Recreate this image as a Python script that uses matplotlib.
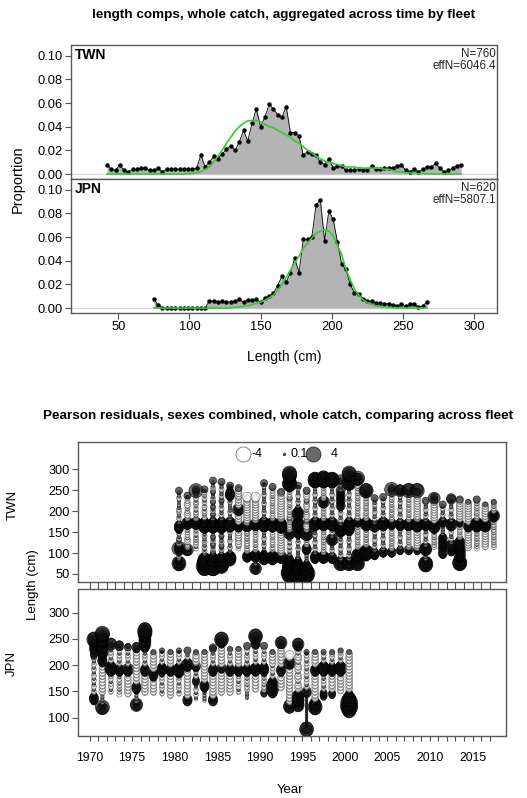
import matplotlib
matplotlib.use('Agg')
import matplotlib.pyplot as plt
import numpy as np

plt.rcParams['font.family'] = ['Liberation Sans', 'DejaVu Sans']

# ---------------- length composition data ----------------
twn_lengths = list(range(42, 292, 3))
twn_obs = [0.008, 0.004, 0.003, 0.008, 0.003, 0.002, 0.004, 0.004, 0.005, 0.005,
           0.003, 0.003, 0.005, 0.002, 0.004, 0.004, 0.004, 0.004, 0.004, 0.004,
           0.004, 0.005, 0.016, 0.006, 0.010, 0.015, 0.013, 0.017, 0.021, 0.024,
           0.020, 0.027, 0.037, 0.028, 0.043, 0.055, 0.040, 0.048, 0.059, 0.055,
           0.050, 0.048, 0.057, 0.035, 0.035, 0.032, 0.016, 0.019, 0.017, 0.016,
           0.010, 0.008, 0.013, 0.005, 0.007, 0.007, 0.003, 0.003, 0.003, 0.004,
           0.003, 0.003, 0.007, 0.004, 0.004, 0.005, 0.005, 0.005, 0.007, 0.008,
           0.003, 0.002, 0.004, 0.002, 0.004, 0.006, 0.006, 0.009, 0.005, 0.002,
           0.003, 0.005, 0.007, 0.008]
twn_exp = [0, 0, 0, 0, 0, 0, 0, 0, 0, 0,
           0, 0, 0, 0, 0, 0, 0, 0, 0, 0.0003,
           0.0005, 0.001, 0.002, 0.004, 0.006, 0.010, 0.015, 0.020, 0.026, 0.031,
           0.036, 0.040, 0.043, 0.045, 0.045, 0.045, 0.044, 0.042, 0.040, 0.039,
           0.037, 0.035, 0.033, 0.031, 0.028, 0.026, 0.023, 0.020, 0.018, 0.015,
           0.013, 0.011, 0.010, 0.009, 0.008, 0.007, 0.006, 0.006, 0.006, 0.005,
           0.005, 0.005, 0.005, 0.005, 0.005, 0.004, 0.004, 0.003, 0.002, 0.002,
           0.001, 0.001, 0.0005, 0.0004, 0.0003, 0.0002, 0.0001, 0, 0, 0,
           0, 0, 0, 0]

jpn_lengths = list(range(75, 268, 3))
jpn_obs = [0.0073, 0.0025, 0, 0, 0, 0, 0, 0, 0, 0,
           0, 0, 0, 0.006, 0.006, 0.005, 0.0056, 0.0053, 0.005, 0.006,
           0.0073, 0.005, 0.0067, 0.0065, 0.0073, 0.0048, 0.0087, 0.010, 0.0124, 0.019,
           0.027, 0.022, 0.030, 0.042, 0.030, 0.058, 0.058, 0.060, 0.087, 0.091,
           0.057, 0.082, 0.075, 0.056, 0.037, 0.0326, 0.020, 0.0126, 0.0118, 0.008,
           0.006, 0.0056, 0.004, 0.0042, 0.0034, 0.0037, 0.0025, 0.0017, 0.003, 0.0014,
           0.0034, 0.0034, 0.0008, 0.0017, 0.0053]
jpn_exp = [0, 0, 0, 0, 0, 0, 0, 0, 0, 0,
           0, 0, 0, 0, 0, 0, 0, 0, 0.0003, 0.0006,
           0.001, 0.0015, 0.002, 0.003, 0.0038, 0.005, 0.0065, 0.0085, 0.011, 0.015,
           0.020, 0.026, 0.032, 0.038, 0.044, 0.050, 0.055, 0.059, 0.063, 0.065,
           0.066, 0.065, 0.061, 0.053, 0.045, 0.033, 0.024, 0.016, 0.011, 0.007,
           0.0045, 0.003, 0.002, 0.0012, 0.0008, 0.0005, 0.0003, 0.0002, 0.0001, 0,
           0, 0, 0, 0, 0]

comp_fleets = ['TWN', 'JPN']
comp_N = ['N=760', 'N=620']
comp_effN = ['effN=6046.4', 'effN=5807.1']

# ---------------- Pearson residual data ----------------
# one character per 3-cm length bin, starting at the listed lower length
res_levels = {'a': -0.2, 'b': -0.45, 'c': -0.8, 'd': -1.5, 'e': -3, 'f': -4,
              '0': 0.1, '1': 0.2, '2': 0.5, '3': 0.9, '4': 1.5, '5': 2.5, '6': 3.5, '7': 5}

twn_years = list(range(1980, 2018))
twn_lo = [66, 102, 111, 60, 60, 63, 75, 111, 84, 57,
          78, 78, 81, 42, 42, 42, 81, 81, 81, 69,
          69, 69, 87, 90, 96, 96, 102, 102, 102, 66,
          114, 93, 99, 69, 111, 111, 114, 114]
twn_codes = [
    "345653" "2a1b1a2" "34643" "1b1a2b1a1b1" "2344432" "a1aba1a1bab1a1a0a1aba1a1a" "3",
    "3453" "bab1bcb1babab1ba" "2345432" "babcbab1babcbabab1" "3",
    "b1ab" "ab1bab1aba1ba" "2345432" "ba1bab1aba1bab1aba1ba" "363",
    "566765665543" "1a1b1ab1a1ba1a1b1a1" "2345554432" "aba1bab1aba0ab1aba1bab1" "3",
    "567766555443" "1a2a1b1a2a1b1a2a1a1" "2345554432" "a1a2a1b1a2a1a2a1b1a1a2a1ba1a1a" "3",
    "456665554432" "1a1b1a2a1b1a1a2a1a" "2345554432" "a1ab1a1aba1a1a2a1ab1a1aba1a1a" "3",
    "2345554321" "a1ab1a1aba1a1a1ba" "234555432" "a1a1ab1a1a1a1b1a" "234443321" "23",
    "b1bb" "cbcbbcbcbcb" "234432" "bcbcbcbb" "24542" "bcbcbcbbcbcbcb" "3",
    "2344321" "bab1babab1bab1baba" "24542" "cbcbcbcbcbcbcbcbcbc" "cd",
    "24542" "1a1a" "23454321" "bab1bab1babab1bab" "2345432" "cbcbcbcbcbcbcbcbc" "cd",
    "23454432211" "a1ab1a1aba1a1ab" "234555432" "a1a1ab1a1a1ab1a1a1ab1a1a1ab1" "3",
    "2345543221" "bab1babab1babab1" "234555432" "babab1babab1babab1babab1b" "3",
    "2345432" "cbcbcbcbcbcbcbcbc" "2345554432" "cbcbcbcbcbcbcbcbcbcbc" "3",
    "5667765665654433221" "a1ab1aba1ab1a1" "24542" "babab1bab2bab1babab1babab2bab1ba" "23456654455666",
    "6677666555443322a1a1" "a1ab1a1ab1a1a" "23432" "234555432" "2345543321" "a1ab1a1aba1a1ab1" "3",
    "56676655443221" "a1a1ab" "234432" "bab1bab" "35653" "babcbab2babcbab1babcbab2babcbab" "3",
    "2344432" "a1ab1a1aba1a1ab1a1a" "23455432" "a1ab1a1aba1a1ab1a1aba1a1ab" "23456653",
    "2345432" "bab1bab1bab1bab1bab" "23455432" "bab1bab1bab" "24542" "bab1bab1bab" "34566653",
    "234432" "a1ab1a1ab" "24542" "a1ab1a" "23455432" "a1ab1a1aba1a1ab1a1aba1a1ab" "23456653",
    "356532" "a1ab1a1aba1a1ab1a1a" "234555432" "a1ab1a1aba1a" "234323432343234" "a1a2a1a2" "4",
    "356532" "a1ab1a1aba1a1ab1a1ab" "234455554432" "a1ab1a1aba1a1ab1a1aba1a1a" "345654334566",
    "356543345543211" "bab1bab1bab1bab1ba" "23432" "bab1bab1bab1bab1bab1bab1bab1b" "34563",
    "23455654321" "bab1bab1bab1b" "23455432" "bab1bab1bab1bab1bab1" "3565",
    "234432" "a1ab1a1aba1a1ab1a" "24542" "a1ab1a1aba1a1ab1a1a" "3",
    "23432" "a1ab1a1aba1a1ab1" "23455432" "a1ab1a1aba1a1ab1a" "3",
    "23432" "bab1bab1bab1bab1b" "234432" "bab1bab1bab1bab1bab1bab" "363",
    "2332" "a1ab1a1aba1a1ab" "2344432" "a1ab1a1aba1a1ab1a1aba1" "354",
    "2342" "bab1bab1bab1bab" "2345432" "bab1bab1bab1bab1bab1ba" "265",
    "2332" "cbcbcbcbcbcbcb" "234555432" "cbcbcbcbcbcbcbcbcbcbc" "365",
    "3566532" "a1a1a" "245542" "a1ab1a1aba1a1" "2344432" "a1ab1a1aba1a1ab" "3",
    "bab1bab1bab1b" "23455432" "bcbcbcbcbcbcbcbcb" "353",
    "2343" "23432343234321" "a1a1a1a" "23432" "a1ab1a1ab1a" "3",
    "2332" "24542" "a1ab1a1aba1" "2345432" "a1ab1a1aba1a1ab1" "44",
    "356653" "34454345443454332" "bab1bab1ba" "2332" "bcbcbcbcbcbcbcbc" "3",
    "bcbcbcbcbcbcbcb" "234432" "bcbcbcbcbcbcbcbc" "2",
    "bab1bab1bab1bab" "234555432" "bab1bab1bab1bab" "3",
    "bcbcbcbcbcbcbc" "23455432" "bcbcbcbcbcbc" "2",
    "bab1bab1bab1bab1bab1ba" "2345432" "bab1bab" "2",
]

jpn_years = list(range(1970, 2001))
jpn_lo = [129, 114, 147, 144, 144, 120, 147, 147, 144, 141,
          144, 129, 135, 132, 129, 147, 147, 147, 138, 153,
          144, 144, 156, 117, 120, 75, 114, 138, 141, 150,
          111]
jpn_codes = [
    "234432" "ab1aba1ab1aba1ab1aba1ab" "2332343343" "565",
    "3563" "1a1a1a1" "bcbcbcbcbcbcbcbcbc" "234433" "445545544554" "566",
    "ab1abab1abab" "23455432" "ab1abab1ab" "354",
    "bab1bab1bab1b" "234432" "ab1abab1aba" "343",
    "bcbcbcbcbcbcb" "234532" "ab1abab1aba" "32",
    "3553" "a1a1a1" "234432" "bcbcbcbcbcbcbcbcbcbc" "2343",
    "bcbcbcbcbcbc" "234432" "ab1abab1ab" "34454554556" "665",
    "bcbcbcbcb" "234432" "bcbcbcbcbcb" "2",
    "ab1abab1abab1" "2344432" "ab1abab1" "2",
    "bcbcbcbcbcbcbc" "234432" "bcbcbcbc" "2",
    "ab1abab1abab" "23455432" "ab1abab1" "2",
    "3443" "bcbcbcbcbcbcbcbcb" "2345432" "ab1ab" "3",
    "a1ab1aba1a" "2332" "ab1ab" "2342" "bcbcbcb" "2",
    "a1a1a1a" "234432" "bcbcbcbcbcbcbcbcbc" "2",
    "3443" "bcbcbcbcbcbcbc" "234432" "ab1abab1ab" "33",
    "bcbcbcbcbcbcbc" "2342" "bcbcbcbcbcbc" "234565",
    "bcbcbcbcbcbc" "234432" "ab1abab1ab" "2",
    "ab1abab1abab" "234432" "bcbcbcbcbc" "2",
    "1a1a1" "bab1bab1ba" "234432" "ab1abab1abab" "3",
    "bcbcbcbcbc" "2345432" "ab1abab1aba" "3443" "3565",
    "232" "bab1bab1ba" "2344432" "ab1abab1aba" "3",
    "34454554432" "ab1abab1" "bcbcbcbc" "2",
    "bcbcbcbcb" "234432" "bcbcbcbcbcbc" "2454",
    "4554" "bcbcbcbcbcbcbcbcbcbcbcb" "24542" "bcd",
    "45545545432" "bcbcb1bcbcb1bcbcb1bcbcb1bc" "23454",
    "565" "00000000000000000000" "2442" "ab1abab1abab1abab1abab1" "2",
    "4565543" "bcbcbcbcbcbcbcbc" "234432" "bcbcbcbc" "2",
    "23332" "ab1abab1ab" "23455432" "ab1aba" "2",
    "2332" "bcbcbcbcbc" "2344432" "ab1abab" "2",
    "bcbcbcbcbcb" "23455432" "ab1abab" "2",
    "56677676654332" "bcbcbcbcbcbcbcbcbcbcbcbc" "2",
]

legend_vals = [-4, 0.1, 4]
legend_labels = ['-4', '0.1', '4']

# ---------------- figure ----------------
W, H = 527, 798
fig = plt.figure(figsize=(W / 100, H / 100), dpi=100)


def fax(x0, y0, x1, y1):
    return fig.add_axes([x0 / W, 1 - y1 / H, (x1 - x0) / W, (y1 - y0) / H])


frame_col = '0.35'
TICK = 9.3

# composition panels
comp_axes = [fax(71, 45, 497, 179), fax(71, 179, 497, 313)]
comp_data = [(twn_lengths, twn_obs, twn_exp), (jpn_lengths, jpn_obs, jpn_exp)]
for k, ax in enumerate(comp_axes):
    L, obs, ex = comp_data[k]
    ax.axhline(0, color='0.85', lw=1.0, zorder=0)
    ax.fill_between(L, 0, obs, color='0.70', lw=0, zorder=1)
    ax.plot(L, obs, color='black', lw=0.6, zorder=2)
    ax.plot(L, obs, 'o', color='black', ms=2.2, zorder=3)
    ax.plot(L, ex, color='#33cc33', lw=1.2, zorder=4)
    ax.set_xlim(16.7, 316.2)
    ax.set_ylim(-0.0042, 0.109)
    ax.set_yticks([0, 0.02, 0.04, 0.06, 0.08, 0.10])
    ax.set_yticklabels(['0.00', '0.02', '0.04', '0.06', '0.08', '0.10'])
    ax.set_xticks([50, 100, 150, 200, 250, 300])
    ax.tick_params(direction='out', length=4, width=0.8, color='0.3',
                   labelsize=TICK, pad=2)
    for s in ax.spines.values():
        s.set_color(frame_col)
        s.set_linewidth(1.0)
    ax.text(0.008, 0.975, comp_fleets[k], transform=ax.transAxes, ha='left',
            va='top', fontsize=10, fontweight='bold')
    ax.text(0.997, 0.975, comp_N[k] + '\n' + comp_effN[k], transform=ax.transAxes,
            ha='right', va='top', fontsize=8.4, linespacing=0.92, color='0.15')
comp_axes[0].tick_params(labelbottom=False, bottom=False)

fig.text(284 / W, 1 - 15 / H, 'length comps, whole catch, aggregated across time by fleet',
         ha='center', va='center', fontsize=9.7, fontweight='bold')
fig.text(18 / W, 1 - 179 / H, 'Proportion', rotation=90, ha='center', va='center', fontsize=10.5)
fig.text(284 / W, 1 - 357 / H, 'Length (cm)', ha='center', va='center', fontsize=10)

# bubble panels
bub_axes = [fax(77.7, 441.7, 505.7, 581.7), fax(77.7, 589.3, 505.7, 736)]
bub_data = [(twn_years, twn_lo, twn_codes), (jpn_years, jpn_lo, jpn_codes)]
bub_ylims = [(31.6, 365.9), (65.1, 344.6)]
bub_yticks = [[50, 100, 150, 200, 250, 300], [100, 150, 200, 250, 300]]
SCALE = 29.2  # points^2 per unit |residual|


def bubble_style(r):
    if r < 0:
        return (1, 1, 1, 0.55), (0.35, 0.35, 0.35, 0.8)
    return (0.05, 0.05, 0.05, 0.62), (0, 0, 0, 0.75)


for k, ax in enumerate(bub_axes):
    yrs, los, codes = bub_data[k]
    xs, ys, rs = [], [], []
    for yr, lo, code in zip(yrs, los, codes):
        for j, ch in enumerate(code):
            xs.append(yr + 0.5)
            ys.append(lo + 3 * j)
            rs.append(res_levels[ch])
    rs = np.array(rs)
    fcs = [bubble_style(r)[0] for r in rs]
    ecs = [bubble_style(r)[1] for r in rs]
    ax.scatter(xs, ys, s=SCALE * np.abs(rs), facecolors=fcs, edgecolors=ecs,
               linewidths=0.5, zorder=2)
    ax.set_xlim(1968.6, 2018.9)
    ax.set_ylim(*bub_ylims[k])
    ax.set_yticks(bub_yticks[k])
    ax.set_xticks(list(range(1970, 2018)))
    ax.set_xticklabels([str(y) if y % 5 == 0 else '' for y in range(1970, 2018)])
    ax.tick_params(axis='y', direction='out', length=4, width=0.8, color='0.3',
                   labelsize=9.2, pad=2)
    ax.tick_params(axis='x', direction='out', width=0.8, color='0.3',
                   labelsize=8.7, pad=8)
    for s in ax.spines.values():
        s.set_color(frame_col)
        s.set_linewidth(1.0)

bub_axes[0].tick_params(axis='x', length=5.4, labelbottom=False)
bub_axes[1].tick_params(axis='x', length=3.5)

# legend inside TWN bubble panel
lax = bub_axes[0]
leg_x = [0.3855, 0.482, 0.5505]
leg_tx = [0.405, 0.497, 0.591]
for v, lab, xp, tx in zip(legend_vals, legend_labels, leg_x, leg_tx):
    fc, ec = bubble_style(v)
    if v < 0:
        fc = (1, 1, 1, 1)
    lax.scatter([xp], [0.915], s=SCALE * abs(v), facecolors=[fc], edgecolors=[ec],
                linewidths=0.6, transform=lax.transAxes, clip_on=False, zorder=5)
    lax.text(tx, 0.915, lab, transform=lax.transAxes, ha='left', va='center',
             fontsize=9)

fig.text(43 / W, 1 - 416 / H,
         'Pearson residuals, sexes combined, whole catch, comparing across fleet',
         ha='left', va='center', fontsize=9.7, fontweight='bold')
fig.text(13 / W, 1 - 505 / H, 'TWN', rotation=90, ha='center', va='center', fontsize=9.5)
fig.text(12 / W, 1 - 663 / H, 'JPN', rotation=90, ha='center', va='center', fontsize=9.5)
fig.text(33 / W, 1 - 585 / H, 'Length (cm)', rotation=90, ha='center', va='center', fontsize=9.5)
fig.text(290 / W, 1 - 790 / H, 'Year', ha='center', va='center', fontsize=9.5)

fig.savefig('out.png', dpi=100)
